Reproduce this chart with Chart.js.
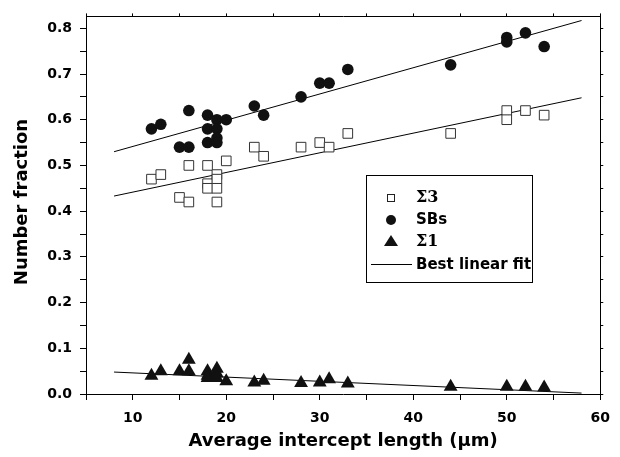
<!DOCTYPE html>
<html>
<head>
<meta charset="utf-8">
<script src="https://cdn.jsdelivr.net/npm/chart.js@4.4.1/dist/chart.umd.min.js"></script>
<style>
  body { margin: 0; background: #fff; }
  #wrap { position: relative; width: 620px; height: 457px; }
</style>
</head>
<body>
<div id="wrap"><canvas id="fraction"></canvas></div>
<script>
// values
var sigma3X = [12, 13, 15, 16, 16, 18, 18, 18, 19, 19, 19, 19, 20, 23, 24, 28, 30, 31, 33, 44, 50, 50, 52, 54];
var sigma3Y = [0.47, 0.48, 0.43, 0.50, 0.42, 0.50, 0.46, 0.45, 0.48, 0.47, 0.45, 0.42, 0.51, 0.54, 0.52, 0.54, 0.55, 0.54, 0.57, 0.57, 0.62, 0.60, 0.62, 0.61];

var sbX = [12, 13, 15, 16, 16, 18, 18, 18, 19, 19, 19, 19, 20, 23, 24, 28, 30, 31, 33, 44, 50, 50, 52, 54];
var sbY = [0.58, 0.59, 0.54, 0.62, 0.54, 0.61, 0.58, 0.55, 0.60, 0.58, 0.56, 0.55, 0.60, 0.63, 0.61, 0.65, 0.68, 0.68, 0.71, 0.72, 0.78, 0.77, 0.79, 0.76];

var sigma1X = [12, 13, 15, 16, 16, 18, 18, 18, 19, 19, 19, 20, 23, 24, 28, 30, 31, 33, 44, 50, 52, 54];
var sigma1Y = [0.040, 0.050, 0.050, 0.075, 0.050, 0.050, 0.040, 0.035, 0.055, 0.045, 0.035, 0.028, 0.025, 0.029, 0.024, 0.025, 0.032, 0.023, 0.016, 0.016, 0.016, 0.014];

// best linear fit end points
var fitX = [8, 58];
var fitSigma3 = [0.433, 0.648];
var fitSB = [0.530, 0.817];
var fitSigma1 = [0.048, 0.002];

var legendLabels = ['\u03A33', 'SBs', '\u03A31', 'Best linear fit'];

function pts(xs, ys) {
	var out = [];
	for (var i in xs) {
		out.push({x: xs[i], y: ys[i]});
	}
	return out;
}

var sans = '"DejaVu Sans", Verdana, sans-serif';
var serif = '"DejaVu Serif", "Liberation Serif", serif';

function fitLine(ys) {
	return {
		type: 'line',
		data: pts(fitX, ys),
		borderColor: '#000',
		borderWidth: 1,
		pointRadius: 0,
		fill: false
	};
}

// legend box and y title drawn on the canvas
var extras = {
	id: 'extras',
	afterDraw: function(chart) {
		var ctx = chart.ctx;
		ctx.save();

		ctx.fillStyle = '#000';
		ctx.font = 'bold 18px ' + sans;
		ctx.textAlign = 'center';
		ctx.textBaseline = 'middle';
		ctx.translate(22, 202);
		ctx.rotate(-Math.PI / 2);
		ctx.fillText('Number fraction', 0, 0);
		ctx.setTransform(1, 0, 0, 1, 0, 0);

		ctx.fillStyle = '#fff';
		ctx.fillRect(366.5, 175.5, 166, 107);
		ctx.strokeStyle = '#000';
		ctx.lineWidth = 1;
		ctx.strokeRect(366.5, 175.5, 166, 107);

		var sx = 391;
		// square
		ctx.fillStyle = '#fff';
		ctx.strokeStyle = '#222';
		ctx.fillRect(387.5, 194.5, 7, 7);
		ctx.strokeRect(387.5, 194.5, 7, 7);
		// circle
		ctx.fillStyle = '#111';
		ctx.beginPath();
		ctx.arc(sx, 220, 5, 0, Math.PI * 2);
		ctx.fill();
		// triangle
		ctx.beginPath();
		ctx.moveTo(sx, 235);
		ctx.lineTo(sx + 7, 246);
		ctx.lineTo(sx - 7, 246);
		ctx.closePath();
		ctx.fill();
		// line
		ctx.strokeStyle = '#000';
		ctx.beginPath();
		ctx.moveTo(371, 264.5);
		ctx.lineTo(412, 264.5);
		ctx.stroke();

		ctx.fillStyle = '#000';
		ctx.textAlign = 'left';
		ctx.textBaseline = 'middle';
		ctx.font = 'bold 16px ' + serif;
		ctx.fillText(legendLabels[0], 416, 198);
		ctx.fillText(legendLabels[2], 416, 242);
		ctx.font = 'bold 15px ' + sans;
		ctx.fillText(legendLabels[1], 416, 220);
		ctx.fillText(legendLabels[3], 416, 265);
		ctx.restore();
	}
};

function tenths(v) {
	return Math.abs(v * 10 - Math.round(v * 10)) < 1e-6;
}

var ctx = document.getElementById('fraction');

var chart = new Chart(ctx, {
	type: 'scatter',
	data: {
		datasets: [
			{
				label: legendLabels[0],
				data: pts(sigma3X, sigma3Y),
				pointStyle: 'rect',
				pointRadius: 6.8,
				backgroundColor: '#fff',
				borderColor: '#333',
				borderWidth: 1
			},
			{
				label: legendLabels[1],
				data: pts(sbX, sbY),
				pointStyle: 'circle',
				pointRadius: 5.8,
				backgroundColor: '#111',
				borderColor: '#111',
				borderWidth: 0
			},
			{
				label: legendLabels[2],
				data: pts(sigma1X, sigma1Y),
				pointStyle: 'triangle',
				pointRadius: 8,
				backgroundColor: '#111',
				borderColor: '#111',
				borderWidth: 0
			},
			fitLine(fitSB),
			fitLine(fitSigma3),
			fitLine(fitSigma1)
		]
	},
	options: {
		responsive: true,
		maintainAspectRatio: false,
		animation: false,
		layout: {padding: 0},
		plugins: {
			legend: {display: false},
			tooltip: {enabled: false}
		},
		scales: {
			x: {
				type: 'linear',
				position: 'bottom',
				min: 5,
				max: 60,
				afterFit: function(s) { s.height = 63; },
				border: {color: '#000', width: 1},
				grid: {drawOnChartArea: false, tickLength: 6, color: '#000'},
				ticks: {
					stepSize: 5,
					autoSkip: false,
					maxRotation: 0,
					padding: 10,
					color: '#000',
					font: {family: sans, size: 14, weight: 'bold'},
					callback: function(v) { return v % 10 === 0 ? String(v) : ''; }
				},
				title: {
					display: true,
					text: 'Average intercept length (\u03BCm)',
					color: '#000',
					font: {family: sans, size: 18, weight: 'bold'},
					padding: {top: 0, bottom: 5}
				}
			},
			x2: {
				type: 'linear',
				position: 'top',
				min: 5,
				max: 60,
				afterFit: function(s) { s.height = 8; },
				border: {color: '#000', width: 1},
				grid: {drawOnChartArea: false, tickLength: 3, color: '#000'},
				ticks: {display: false, stepSize: 5}
			},
			y: {
				type: 'linear',
				position: 'left',
				min: 0,
				max: 0.826,
				afterFit: function(s) { s.width = 86; },
				border: {color: '#000', width: 1},
				grid: {drawOnChartArea: false, tickLength: 6, color: '#000'},
				ticks: {
					stepSize: 0.05,
					includeBounds: false,
					autoSkip: false,
					padding: 8,
					color: '#000',
					font: {family: sans, size: 14, weight: 'bold'},
					callback: function(v) { return tenths(v) ? v.toFixed(1) : ''; }
				}
			},
			y2: {
				type: 'linear',
				position: 'right',
				min: 0,
				max: 0.826,
				afterFit: function(s) { s.width = 15; },
				border: {color: '#000', width: 1},
				grid: {drawOnChartArea: false, tickLength: 3, color: '#000'},
				ticks: {display: false, stepSize: 0.05, includeBounds: false}
			}
		}
	},
	plugins: [extras]
});
</script>
</body>
</html>
